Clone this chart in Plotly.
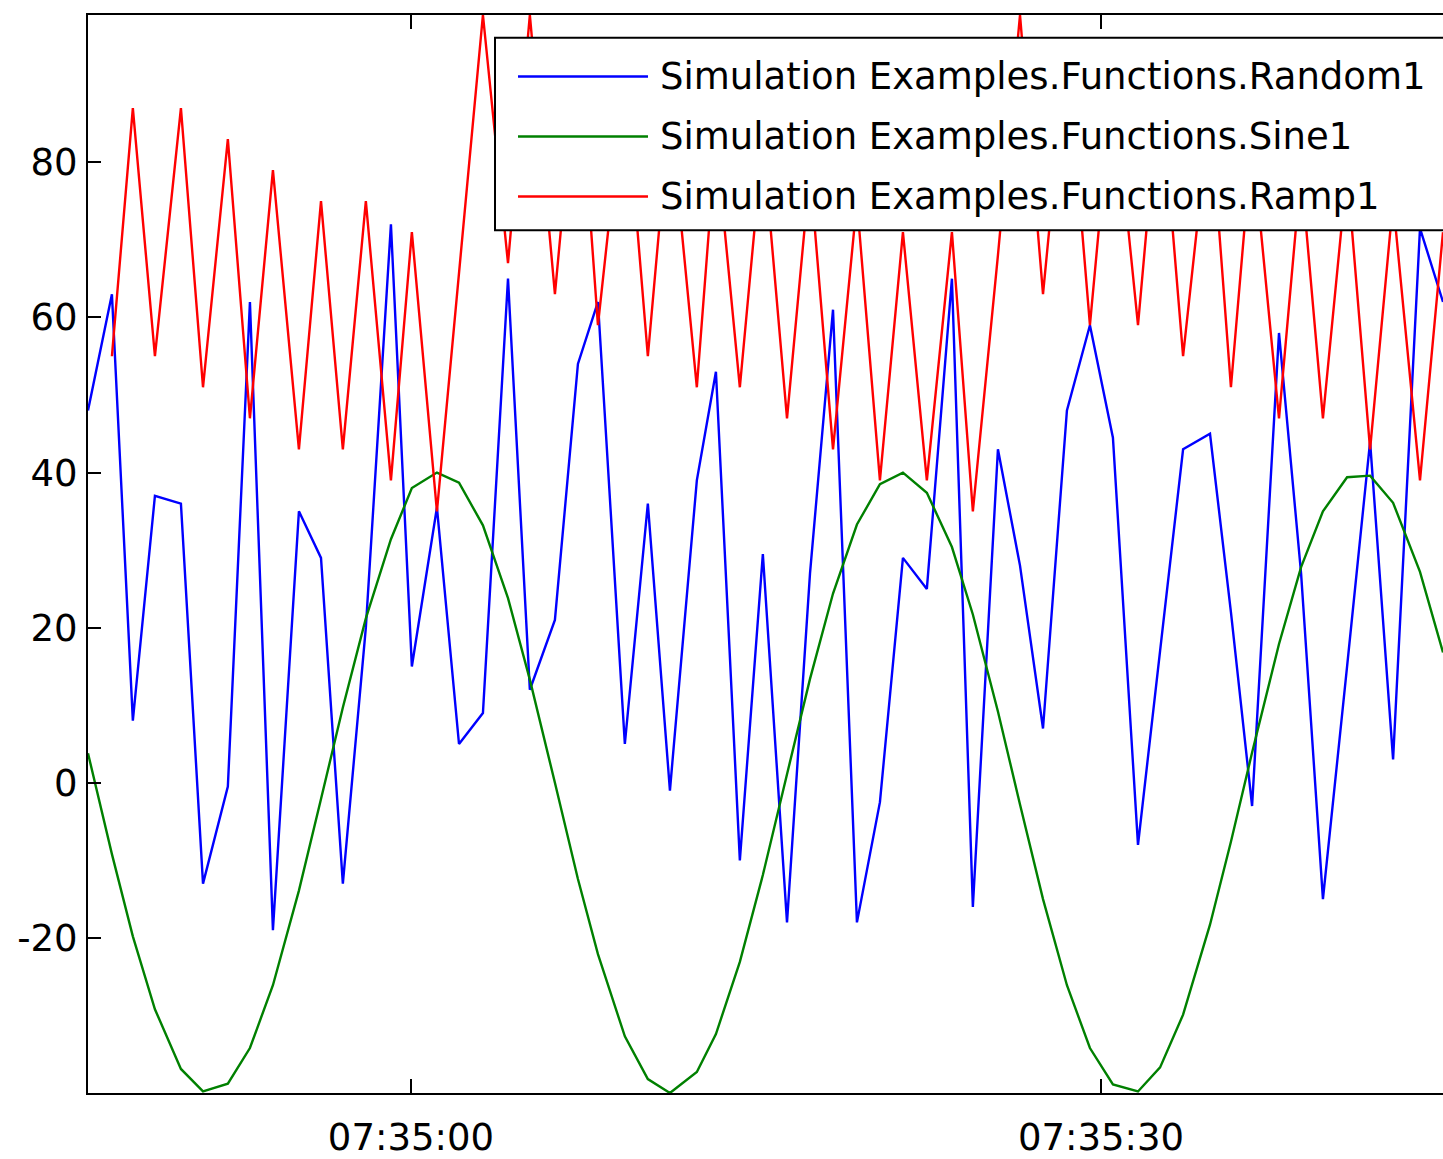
import pandas as pd
import plotly.graph_objects as go

# Sample times, seconds relative to 07:35:00 (shared by all three tags)
sample_offsets_s = [
    -14.04, -13.0, -12.09, -11.13, -10.0, -9.04, -7.96, -7.0, -6.0, -4.87,
    -3.91, -2.96, -1.96, -0.87, 0.04, 1.13, 2.09, 3.13, 4.22, 5.17,
    6.26, 7.26, 8.13, 9.3, 10.3, 11.26, 12.43, 13.26, 14.3, 15.3,
    16.35, 17.35, 18.35, 19.39, 20.39, 21.39, 22.43, 23.52, 24.43, 25.52,
    26.48, 27.48, 28.52, 29.52, 30.52, 31.61, 32.57, 33.57, 34.74, 35.65,
    36.57, 37.74, 38.7, 39.65, 40.7, 41.7, 42.7, 43.87, 44.87,
]

random1 = [
    48, 63, 8, 37, 36, -13, -0.5, 62, -19, 35,
    29, -13, 20, 72, 15, 35.5, 5, 9, 65, 12,
    21, 54, 62, 5, 36, -1, 39, 53, -10, 29.5,
    -18, 27, 61, -18, -2.5, 29, 25, 65, -16, 43,
    28, 7, 48, 59, 44.5, -8, 17, 43, 45, 22,
    -3, 58, 27, -15, 15, 44, 3, 71.5, 62,
]

sine1 = [
    3.8, -9.2, -19.8, -29.2, -36.9, -39.8, -38.8, -34.2, -26.1, -13.9,
    -2.1, 9.7, 21.2, 31.4, 38.0, 40.0, 38.7, 33.2, 23.8, 13.3,
    0.0, -12.4, -22.1, -32.7, -38.2, -40.0, -37.3, -32.4, -23.1, -11.9,
    1.1, 13.4, 24.4, 33.3, 38.5, 40.0, 37.4, 30.4, 21.7, 9.2,
    -2.8, -15.0, -26.1, -34.2, -38.9, -39.8, -36.7, -29.9, -18.3, -7.6,
    3.9, 17.9, 27.8, 35.0, 39.4, 39.6, 36.1, 27.2, 16.8,
]

ramp1 = [
    None, 55, 87, 55, 87, 51, 83, 47, 79, 43,
    75, 43, 75, 39, 71, 35, 66, 99, 67, 99,
    63, 95, 59, 91, 55, 87, 51, 83, 51, 83,
    47, 79, 43, 75, 39, 71, 39, 71, 35, 68,
    99, 63, 95, 59, 91, 59, 91, 55, 87, 51,
    83, 47, 79, 47, 79, 43, 75, 39, 71,
]

series_names = [
    "Simulation Examples.Functions.Random1",
    "Simulation Examples.Functions.Sine1",
    "Simulation Examples.Functions.Ramp1",
]
series_colors = ["#0000ff", "#008000", "#ff0000"]

y_tick_values = [-20, 0, 20, 40, 60, 80]
y_tick_labels = ["-20", "0", "20", "40", "60", "80"]
x_tick_labels = ["07:35:00", "07:35:30"]
y_limits = [-40, 99]

# ---------------------------------------------------------------------------
day = "2012-06-01"
base = pd.Timestamp(f"{day} 07:35:00")
times = base + pd.to_timedelta(sample_offsets_s, unit="s")
x_tick_values = [pd.Timestamp(f"{day} {lbl}") for lbl in x_tick_labels]

W, H = 1443, 1159
M_L, M_R, M_T, M_B = 88, 0, 15, 57
PW, PH = W - M_L - M_R, H - M_T - M_B

FONT = "DejaVu Sans"
FS = 37
LW = 2.4


def px_x(px):
    return (px - M_L) / PW


def px_y(py):
    return (H - M_B - py) / PH


fig = go.Figure()
for name, vals, col in zip(series_names, [random1, sine1, ramp1], series_colors):
    fig.add_trace(go.Scatter(
        x=times, y=vals, mode="lines", name=name,
        line=dict(color=col, width=LW),
        connectgaps=False, showlegend=False,
    ))

# Boxed legend with long sample lines, upper right
leg_left, leg_top, leg_bottom, leg_right = 495, 38, 232, W + 40
row_y = [77, 137.5, 198]
line_x0, line_x1, text_x = 518, 648, 658

shapes = [dict(
    type="rect", xref="paper", yref="paper", layer="above",
    x0=px_x(leg_left), x1=px_x(leg_right), y0=px_y(leg_bottom), y1=px_y(leg_top),
    line=dict(color="black", width=2), fillcolor="white",
)]
annotations = []
for name, col, ry in zip(series_names, series_colors, row_y):
    shapes.append(dict(
        type="line", xref="paper", yref="paper", layer="above",
        x0=px_x(line_x0), x1=px_x(line_x1), y0=px_y(ry), y1=px_y(ry),
        line=dict(color=col, width=LW),
    ))
    annotations.append(dict(
        xref="paper", yref="paper", x=px_x(text_x), y=px_y(ry),
        xanchor="left", yanchor="middle", showarrow=False,
        text=name, font=dict(family=FONT, size=FS, color="black"),
    ))

fig.update_layout(
    width=W, height=H,
    margin=dict(l=M_L, r=M_R, t=M_T, b=M_B, pad=0),
    paper_bgcolor="white", plot_bgcolor="white",
    font=dict(family=FONT, size=FS, color="black"),
    shapes=shapes, annotations=annotations,
    showlegend=False,
)
fig.update_xaxes(
    type="date", range=[times[0], times[-1]],
    tickvals=x_tick_values, ticktext=x_tick_labels,
    ticks="inside", ticklen=14, tickwidth=2, tickcolor="black",
    showline=True, linewidth=2, linecolor="black", mirror="ticks",
    showgrid=False, zeroline=False, ticklabelstandoff=11,
)
fig.update_yaxes(
    range=y_limits, tickvals=y_tick_values, ticktext=y_tick_labels,
    ticks="inside", ticklen=13, tickwidth=2, tickcolor="black",
    showline=True, linewidth=2, linecolor="black", mirror=False,
    showgrid=False, zeroline=False, ticklabelstandoff=1,
)

fig.write_html("out.html", config={"displayModeBar": False})
